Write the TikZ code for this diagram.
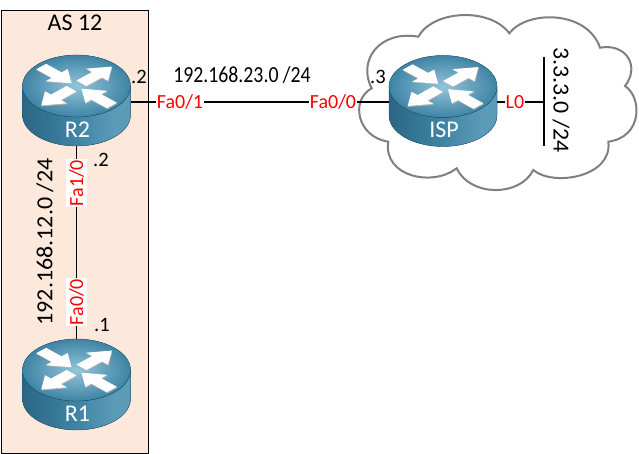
\documentclass[tikz,border=0pt]{standalone}
\usepackage{fontspec}
\setmainfont{Carlito}
\definecolor{asfill}{HTML}{FCE9DB}
\definecolor{cloudgray}{HTML}{7F7F7F}
\definecolor{routerlight}{HTML}{93C5DA}
\definecolor{routerdark}{HTML}{3F84A5}
\definecolor{routeredge}{HTML}{235A76}
\pgfdeclarehorizontalshading{routerside}{100bp}{color(0bp)=(routeredge!70!routerdark); color(25bp)=(routeredge!70!routerdark); color(50bp)=(routerdark); color(68bp)=(routerdark!65!routerlight); color(75bp)=(routerdark!65!routerlight); color(100bp)=(routerdark!85!routeredge)}
\tikzset{
    routerbox/.style = {minimum width=108pt, minimum height=91pt, inner sep=0pt},
    routername/.style = {text=white, font=\fontsize{24}{24}\selectfont},
    port/.style = {text=red, fill=white, inner sep=1pt, font=\fontsize{20}{20}\selectfont},
    portv/.style = {port, rotate=90, inner ysep=3.5pt},
    plain/.style = {font=\fontsize{20.5}{20.5}\selectfont, inner sep=0pt},
    ipnet/.style = {font=\fontsize{23}{23}\selectfont, inner sep=0pt},
    link/.style = {line width=1.5pt},
}
\newcommand{\router}[4]{
    \fill[shading=routerside, draw=routeredge, line width=0.3pt] (#2-54,#3+14.5) -- (#2-54,#3-14.5) arc[start angle=180, end angle=360, x radius=54, y radius=31] -- (#2+54,#3+14.5) arc[start angle=0, end angle=-180, x radius=54, y radius=31] -- cycle;
    \fill[inner color=routerlight, outer color=routerdark, draw=routeredge, line width=0.3pt] (#2,#3+14.5) ellipse[x radius=54, y radius=31];
    \begin{scope}[shift={(#2,#3+14.5)}, yscale=.55]
        \foreach \ang in {45,225} {
            \fill[black!30, shift={(0.5,-1.8)}, rotate=\ang] (7,-7) -- (29,-7) -- (29,-15.5) -- (50,0) -- (29,15.5) -- (29,7) -- (7,7) -- cycle;
            \fill[white, rotate=\ang] (7,-7) -- (29,-7) -- (29,-15.5) -- (50,0) -- (29,15.5) -- (29,7) -- (7,7) -- cycle;
        }
        \foreach \ang in {135,315} {
            \fill[black!30, shift={(0.5,-1.8)}, rotate=\ang] (50,-7) -- (28,-7) -- (28,-15.5) -- (7,0) -- (28,15.5) -- (28,7) -- (50,7) -- cycle;
            \fill[white, rotate=\ang] (50,-7) -- (28,-7) -- (28,-15.5) -- (7,0) -- (28,15.5) -- (28,7) -- (50,7) -- cycle;
        }
    \end{scope}
    \node[routerbox] (#1) at (#2,#3) {};
    \node[routername] (#1name) at (#2+1,#3-29) {#4};
}

\begin{document}
\begin{tikzpicture}[x=1pt, y=1pt]
    \useasboundingbox (0,0) rectangle (639,454);

    % AS box
    \node[draw, fill=asfill, line width=0.8pt, minimum width=147pt, minimum height=443pt, inner sep=0pt] (asbox) at (75,222) {};
    \node[font=\fontsize{24}{24}\selectfont, inner sep=0pt] (astext) at (75,431) {AS 12};

    % cloud
    \draw[cloudgray, line width=2pt] (418.3,417.3) .. controls (433,444) and (490,447) .. (509.3,420.7)
        .. controls (527,444) and (587,444) .. (600,406.3)
        .. controls (627,411) and (640,387) .. (625,368)
        .. controls (642,357) and (643,317) .. (608.3,312.3)
        .. controls (613,277) and (553,267) .. (533.3,284)
        .. controls (520,257) and (470,257) .. (456.7,285.7)
        .. controls (433,267) and (383,277) .. (388.3,312.3)
        .. controls (357,317) and (350,354) .. (371.7,365.7)
        .. controls (357,394) and (380,424) .. (418.3,417.3) -- cycle;

    \router{R2}{76.5}{353.5}{R2}
    \router{R1}{76.5}{69.5}{R1}
    \router{ISP}{443}{353}{ISP}

    \node[port] (fa01) at (180,352) {Fa0/1};
    \node[port] (fa00isp) at (333,352) {Fa0/0};
    \node[port] (l0) at (515,352) {L0};
    \node[portv] (fa10) at (76.5,271) {Fa1/0};
    \node[portv] (fa00r1) at (76.5,152) {Fa0/0};

    \coordinate (nettop) at (544,397);
    \coordinate (netbottom) at (544,308);
    \coordinate (netmid) at (544,352);

    \draw[link] (R2.east |- fa01) -- (fa01) -- (fa00isp) -- (ISP.west |- fa00isp);
    \draw[link] (ISP.east |- l0) -- (l0) -- (netmid);
    \draw[link] (nettop) -- (netbottom);
    \draw[link] (R2.south) -- (fa10) -- (fa00r1) -- (R1.north);

    \node[ipnet, xscale=.86] (ip23) at (242,379) {192.168.23.0 /24};
    \node[ipnet, rotate=90, xscale=1.045] (ip12) at (45,212) {192.168.12.0 /24};
    \node[ipnet, rotate=-90, xscale=1.04] (ip3) at (561,354) {3.3.3.0 /24};
    \node[plain] (dotr2a) at (139,377) {.2};
    \node[plain] (dotr2b) at (101,294) {.2};
    \node[plain] (dotr1) at (102,129) {.1};
    \node[plain] (dotisp) at (378,377) {.3};
\end{tikzpicture}
\end{document}
